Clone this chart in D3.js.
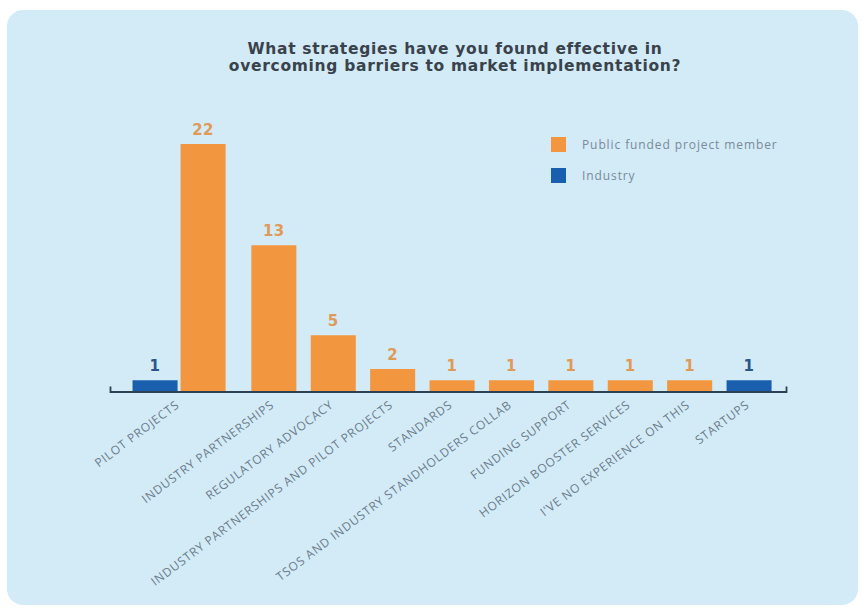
<!DOCTYPE html>
<html>
<head>
<meta charset="utf-8">
<script src="https://cdn.jsdelivr.net/npm/d3@7/dist/d3.min.js"></script>
<style>
  html, body { margin: 0; padding: 0; background: #ffffff; }
  svg { display: block; }
</style>
</head>
<body>
<svg id="chart" width="865" height="610"></svg>
<script>
// Survey answers: how many respondents of each group named each strategy
const categories = [
  "PILOT PROJECTS",
  "INDUSTRY PARTNERSHIPS",
  "REGULATORY ADVOCACY",
  "INDUSTRY PARTNERSHIPS AND PILOT PROJECTS",
  "STANDARDS",
  "TSOS AND INDUSTRY STANDHOLDERS COLLAB",
  "FUNDING SUPPORT",
  "HORIZON BOOSTER SERVICES",
  "I'VE NO EXPERIENCE ON THIS",
  "STARTUPS"
];
const industryValues = [1, 0, 0, 0, 0, 0, 0, 0, 0, 1];
const publicValues   = [22, 13, 5, 2, 1, 1, 1, 1, 1, 0];
const seriesNames = ["Public funded project member", "Industry"];
const titleLines = [
  "What strategies have you found effective in",
  "overcoming barriers to market implementation?"
];

const colors = { "Public funded project member": "#f2963f", "Industry": "#1a5fae" };
const labelColors = { "Public funded project member": "#e09a58", "Industry": "#2a5789" };

const svg = d3.select("#chart");

// card background
svg.append("rect")
  .attr("x", 7).attr("y", 10)
  .attr("width", 851).attr("height", 595)
  .attr("rx", 16).attr("ry", 16)
  .attr("fill", "#d2ebf7");

// title
svg.append("text")
  .attr("x", 455).attr("y", 54)
  .attr("text-anchor", "middle")
  .attr("font-family", "DejaVu Sans, sans-serif")
  .attr("font-weight", "bold")
  .attr("font-size", 15.5)
  .attr("letter-spacing", 0.7)
  .attr("fill", "#3a424c")
  .selectAll("tspan")
  .data(titleLines)
  .join("tspan")
  .attr("x", 455)
  .attr("dy", (d, i) => i === 0 ? 0 : 16.5)
  .text(d => d);

// one slot per drawn bar; bars of the same category sit side by side
const bars = [];
categories.forEach((c, ci) => {
  const parts = [];
  if (industryValues[ci] > 0) parts.push({ series: "Industry", value: industryValues[ci] });
  if (publicValues[ci] > 0) parts.push({ series: "Public funded project member", value: publicValues[ci] });
  parts.forEach((p, j) => bars.push({ category: c, ci, j, n: parts.length, key: c + "|" + p.series, ...p }));
});

const axisY = 391.5;
const x = d3.scaleBand()
  .domain(bars.map(b => b.key))
  .range([110, 786])
  .paddingInner(0.242)
  .paddingOuter(0.311)
  .align(0.61);

const y = d3.scaleLinear().domain([0, 22]).range([axisY, 144]);

const innerGap = 3;
const bw = x.bandwidth();
// left edge of a bar: first slot of its category, then packed with a small gap
const firstSlot = {};
bars.forEach(b => { if (b.j === 0) firstSlot[b.category] = x(b.key); });
const barX = b => firstSlot[b.category] + b.j * (bw + innerGap);
const groupCenter = c => {
  const g = bars.filter(b => b.category === c);
  return firstSlot[c] + (g.length * bw + (g.length - 1) * innerGap) / 2;
};

svg.append("g")
  .selectAll("rect")
  .data(bars)
  .join("rect")
  .attr("x", barX)
  .attr("y", d => y(d.value))
  .attr("width", bw)
  .attr("height", d => y(0) - y(d.value))
  .attr("fill", d => colors[d.series]);

// value labels
svg.append("g")
  .selectAll("text")
  .data(bars)
  .join("text")
  .attr("x", d => barX(d) + bw / 2)
  .attr("y", d => y(d.value) - 9)
  .attr("text-anchor", "middle")
  .attr("font-family", "DejaVu Sans, sans-serif")
  .attr("font-weight", "bold")
  .attr("font-size", 15)
  .attr("letter-spacing", 0.5)
  .attr("fill", d => labelColors[d.series])
  .text(d => d.value);

// baseline with upturned end ticks
const axis = d3.axisBottom(x).tickValues([]).tickSizeInner(0).tickSizeOuter(-5);
const ag = svg.append("g").attr("transform", `translate(0,${axisY})`).call(axis);
ag.select(".domain").attr("stroke", "#2d4154").attr("stroke-width", 1.8);

// rotated category labels
svg.append("g")
  .selectAll("text")
  .data(categories)
  .join("text")
  .attr("transform", c => `translate(${groupCenter(c) + 1},${axisY + 15}) rotate(-37)`)
  .attr("text-anchor", "end")
  .attr("font-family", "Open Sans, sans-serif")
  .attr("font-size", 12)
  .attr("letter-spacing", 0.8)
  .attr("fill", "#6d7c8b")
  .text(c => c);

// legend
const legend = svg.append("g").attr("transform", "translate(551,137)");
const li = legend.selectAll("g").data(seriesNames).join("g")
  .attr("transform", (d, i) => `translate(0,${i * 31})`);
li.append("rect").attr("width", 15).attr("height", 15).attr("fill", d => colors[d]);
li.append("text")
  .attr("x", 31).attr("y", 11.5)
  .attr("font-family", "Open Sans, sans-serif")
  .attr("font-size", 12)
  .attr("letter-spacing", 0.9)
  .attr("fill", "#7a8a99")
  .text(d => d);
</script>
</body>
</html>
